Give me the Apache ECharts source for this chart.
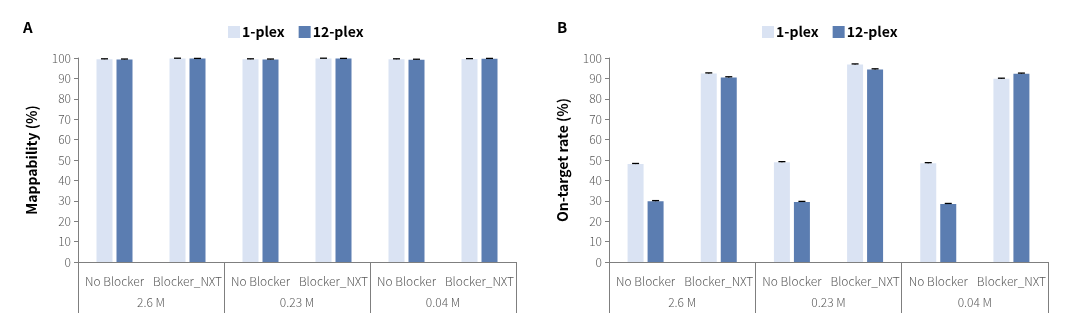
<!DOCTYPE html>
<html>
<head>
<meta charset="utf-8">
<script src="https://cdn.jsdelivr.net/npm/echarts@6/dist/echarts.min.js"></script>
<style>
  html, body { margin: 0; padding: 0; background: #fff; }
  #chart { width: 1080px; height: 326px; }
</style>
</head>
<body>
<div id="chart"></div>
<script>
// Categories (conditions) and groups (read depth)
const conditions = ['No Blocker', 'Blocker_NXT', 'No Blocker', 'Blocker_NXT', 'No Blocker', 'Blocker_NXT'];
const depths = ['2.6 M', '0.23 M', '0.04 M'];
const seriesNames = ['1-plex', '12-plex'];

// Panel A: mappability (%)
const mapOnePlex = [99.4, 99.8, 99.4, 99.8, 99.4, 99.5];
const mapTwelvePlex = [99.3, 99.7, 99.3, 99.7, 99.2, 99.6];
const mapOnePlexErr = [0.2, 0.1, 0.2, 0.1, 0.2, 0.2];
const mapTwelvePlexErr = [0.2, 0.1, 0.2, 0.1, 0.2, 0.2];

// Panel B: on-target rate (%)
const onOnePlex = [48.0, 92.4, 48.9, 96.8, 48.4, 89.8];
const onTwelvePlex = [29.8, 90.5, 29.4, 94.4, 28.4, 92.3];
const onOnePlexErr = [0.3, 0.3, 0.3, 0.3, 0.3, 0.3];
const onTwelvePlexErr = [0.3, 0.3, 0.3, 0.3, 0.3, 0.3];

const yTicks = { min: 0, max: 100, interval: 10 };

const FONT = '"Noto Sans CJK JP", "Noto Sans", sans-serif';
const LIGHT = '#dae3f3';
const DARK = '#5b7db1';
const AXIS = '#7f7f7f';
const TEXT = '#595959';
const BAR_W = 16;
const BAR_GAP = 4;

function errorSeries(name, values, errs, xIdx, yIdx, side) {
  return {
    type: 'custom',
    name: name,
    xAxisIndex: xIdx,
    yAxisIndex: yIdx,
    z: 5,
    silent: true,
    data: values.map((v, i) => [i, v, errs[i]]),
    renderItem: function (params, api) {
      const i = api.value(0);
      const v = api.value(1);
      const e = api.value(2);
      const top = api.coord([i, v + e]);
      const base = api.coord([i, v]);
      const x = top[0] + side * (BAR_W + BAR_GAP) / 2;
      const style = { stroke: '#000', lineWidth: 1.3 };
      return {
        type: 'group',
        children: [
          { type: 'line', shape: { x1: x, y1: base[1], x2: x, y2: top[1] }, style: style },
          { type: 'line', shape: { x1: x - 3.5, y1: top[1], x2: x + 3.5, y2: top[1] }, style: style }
        ]
      };
    }
  };
}

function catAxis(gridIndex) {
  return {
    type: 'category',
    gridIndex: gridIndex,
    data: conditions,
    axisLine: { show: true, lineStyle: { color: AXIS, width: 1 } },
    axisTick: { show: false },
    axisLabel: { interval: 0, margin: 13, color: TEXT, fontSize: 12, fontWeight: 300, fontFamily: FONT }
  };
}

function groupAxis(gridIndex) {
  return {
    type: 'category',
    gridIndex: gridIndex,
    position: 'bottom',
    data: depths,
    axisLine: { show: false },
    axisTick: { show: true, interval: 0, length: 51, lineStyle: { color: AXIS, width: 1 } },
    axisLabel: { interval: 0, margin: 34, color: TEXT, fontSize: 12, fontWeight: 300, fontFamily: FONT }
  };
}

function valAxis(gridIndex, name) {
  return {
    type: 'value',
    gridIndex: gridIndex,
    min: yTicks.min,
    max: yTicks.max,
    interval: yTicks.interval,
    name: name,
    nameLocation: 'middle',
    nameGap: 39,
    nameTextStyle: { color: '#000', fontSize: 14, fontWeight: 'bold', fontFamily: FONT },
    axisLine: { show: true, lineStyle: { color: AXIS, width: 1 } },
    axisTick: { show: true, length: 4, lineStyle: { color: AXIS } },
    splitLine: { show: false },
    axisLabel: { margin: 7, color: TEXT, fontSize: 12, fontWeight: 300, fontFamily: FONT }
  };
}

function barSeries(name, values, color, xIdx, yIdx) {
  return {
    type: 'bar',
    name: name,
    xAxisIndex: xIdx,
    yAxisIndex: yIdx,
    data: values,
    barWidth: BAR_W,
    barGap: (BAR_GAP / BAR_W * 100) + '%',
    itemStyle: { color: color },
    animation: false
  };
}

function legendAt(left) {
  return {
    left: left,
    top: 20,
    itemWidth: 12,
    itemHeight: 12,
    itemGap: 14,
    icon: 'rect',
    data: seriesNames,
    textStyle: { color: '#000', fontSize: 14, fontWeight: 'bold', fontFamily: FONT, padding: [0, 0, 0, -3] }
  };
}

const chart = echarts.init(document.getElementById('chart'), null, { renderer: 'canvas' });
chart.setOption({
  animation: false,
  backgroundColor: '#fff',
  color: [LIGHT, DARK],
  legend: [legendAt(223), legendAt(757)],
  graphic: [
    { type: 'text', left: 23, top: 20, style: { text: 'A', fontSize: 15, fontWeight: 'bold', fontFamily: FONT, fill: '#000' } },
    { type: 'text', left: 557, top: 20, style: { text: 'B', fontSize: 15, fontWeight: 'bold', fontFamily: FONT, fill: '#000' } }
  ],
  grid: [
    { left: 78, right: 564, top: 58, bottom: 64 },
    { left: 609, right: 32, top: 58, bottom: 64 }
  ],
  xAxis: [catAxis(0), groupAxis(0), catAxis(1), groupAxis(1)],
  yAxis: [valAxis(0, 'Mappability (%)'), valAxis(1, 'On-target rate (%)')],
  series: [
    barSeries('1-plex', mapOnePlex, LIGHT, 0, 0),
    barSeries('12-plex', mapTwelvePlex, DARK, 0, 0),
    errorSeries('1-plex', mapOnePlex, mapOnePlexErr, 0, 0, -1),
    errorSeries('12-plex', mapTwelvePlex, mapTwelvePlexErr, 0, 0, 1),
    barSeries('1-plex', onOnePlex, LIGHT, 2, 1),
    barSeries('12-plex', onTwelvePlex, DARK, 2, 1),
    errorSeries('1-plex', onOnePlex, onOnePlexErr, 2, 1, -1),
    errorSeries('12-plex', onTwelvePlex, onTwelvePlexErr, 2, 1, 1)
  ]
});
</script>
</body>
</html>
